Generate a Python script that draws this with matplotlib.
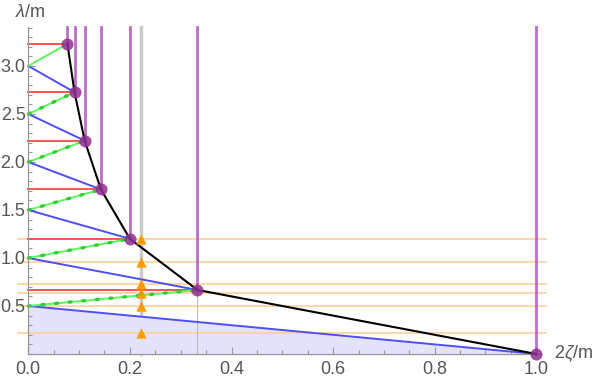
import matplotlib
matplotlib.use("Agg")
import matplotlib.pyplot as plt
from matplotlib.ticker import FixedLocator

plt.rcParams["font.family"] = ["Liberation Sans", "DejaVu Sans"]
plt.rcParams["mathtext.fontset"] = "custom"
plt.rcParams["mathtext.rm"] = "Liberation Sans"
plt.rcParams["mathtext.it"] = "Liberation Sans:italic"

# vertices of the construction
pt_x = [1.0, 0.333, 0.2, 0.143, 0.111, 0.091, 0.077]
pt_y = [0.0, 0.667, 1.2, 1.714, 2.222, 2.727, 3.231]

# blue lines start at (0, blue_y0[i]) and end at point i
blue_y0 = [0.5, 1.0, 1.5, 2.0, 2.5, 3.0]
# green lines start at (0, green_y0[i]) and end at point i+1
green_y0 = [0.5, 1.0, 1.5, 2.0, 2.5, 3.0]

# orange levels and marker column
orange_x = 0.222
orange_y = [0.215, 0.5, 0.632, 0.729, 0.955, 1.2]

y_top = 3.41

xticks = [0.0, 0.2, 0.4, 0.6, 0.8, 1.0]
yticks = [0.5, 1.0, 1.5, 2.0, 2.5, 3.0]

RED = "#ff5353"
BLUE = "#4f4ff5"
GREEN = "#5ef55e"
DGREEN = "#2fcf2f"
PURPLE = "#b460c0"
DPURPLE = "#8e2f90"
ORANGE = "#ff9a00"
LORANGE = "#ffcf9c"

fig = plt.figure(figsize=(5.99, 3.81), dpi=100)
ax = fig.add_axes([0, 0, 1, 1])
ax.set_xlim(-28.3 / 508, (599 - 28.3) / 508)
ax.set_ylim(-(381 - 354) / 96, 354 / 96)

# shaded region under the lowest blue line
ax.fill_between([0, pt_x[0]], [blue_y0[0], pt_y[0]], 0, color="#e3e3fb", zorder=1)

# gray guides
ax.plot([orange_x, orange_x], [0, y_top], color="#cacaca", lw=2.5, zorder=0.5)
ax.plot([pt_x[1], pt_x[1]], [0, pt_y[1]], color="#bbbbbb", lw=0.8, zorder=1.5)

# orange levels
for yv in orange_y:
    ax.plot([-0.02, 1.02], [yv, yv], color=LORANGE, lw=1.2, zorder=1.2)

# red horizontals
for i in range(1, len(pt_x)):
    ax.plot([0, pt_x[i]], [pt_y[i], pt_y[i]], color=RED, lw=1.4, zorder=2)

# blue segments
for i, y0 in enumerate(blue_y0):
    ax.plot([0, pt_x[i]], [y0, pt_y[i]], color=BLUE, lw=1.4, zorder=2.2)

# green segments with dotted overlay
for i, y0 in enumerate(green_y0):
    ax.plot([0, pt_x[i + 1]], [y0, pt_y[i + 1]], color=GREEN, lw=1.4, zorder=2.3)
    if i < 5:
        ax.plot([0, pt_x[i + 1]], [y0, pt_y[i + 1]], color=DGREEN, lw=2.4,
                linestyle=(0, (0.6, 3.5)), dash_capstyle="round", zorder=2.4)

# purple verticals
for i in range(len(pt_x)):
    ax.plot([pt_x[i], pt_x[i]], [pt_y[i], y_top], color=PURPLE, lw=2.0,
            alpha=0.9, zorder=2.5)

# black connecting curve
ax.plot(pt_x, pt_y, color="black", lw=1.5, zorder=3)

# vertices
ax.scatter(pt_x, pt_y, s=75, color=DPURPLE, alpha=0.85, zorder=4, linewidths=0)

# orange triangles
ax.scatter([orange_x] * len(orange_y), orange_y, marker="^", s=55, color=ORANGE,
           zorder=4.5, linewidths=0)

# axes styling
for side in ["top", "right"]:
    ax.spines[side].set_visible(False)
ax.spines["left"].set_position(("data", 0))
ax.spines["bottom"].set_position(("data", 0))
ax.spines["left"].set_bounds(0, y_top)
ax.spines["bottom"].set_bounds(0, 1.01)
for side in ["left", "bottom"]:
    ax.spines[side].set_color("#999999")
    ax.spines[side].set_linewidth(0.9)

ax.xaxis.set_major_locator(FixedLocator(xticks))
ax.yaxis.set_major_locator(FixedLocator(yticks))
ax.yaxis.set_minor_locator(FixedLocator([v / 10 for v in range(1, 35)]))
ax.xaxis.set_minor_locator(FixedLocator([v / 20 for v in range(1, 20)]))
ax.set_xticklabels([f"{v:.1f}" for v in xticks])
ax.set_yticklabels([f"{v:.1f}" for v in yticks])
ax.tick_params(which="both", direction="in", color="#999999", width=0.8)
ax.tick_params(which="major", length=5)
ax.tick_params(which="minor", length=3)
ax.tick_params(axis="x", which="major", pad=5, labelsize=13, labelcolor="#555555")
ax.tick_params(axis="y", which="major", pad=2, labelsize=13, labelcolor="#555555")

ax.text(0.004, 3.56, r"$\lambda$/m", fontsize=13, color="#555555",
        ha="center", va="center")
ax.text(1.035, 0.0, r"2$\zeta$/m", fontsize=13, color="#555555",
        ha="left", va="center")

fig.savefig("out.png", dpi=100)
